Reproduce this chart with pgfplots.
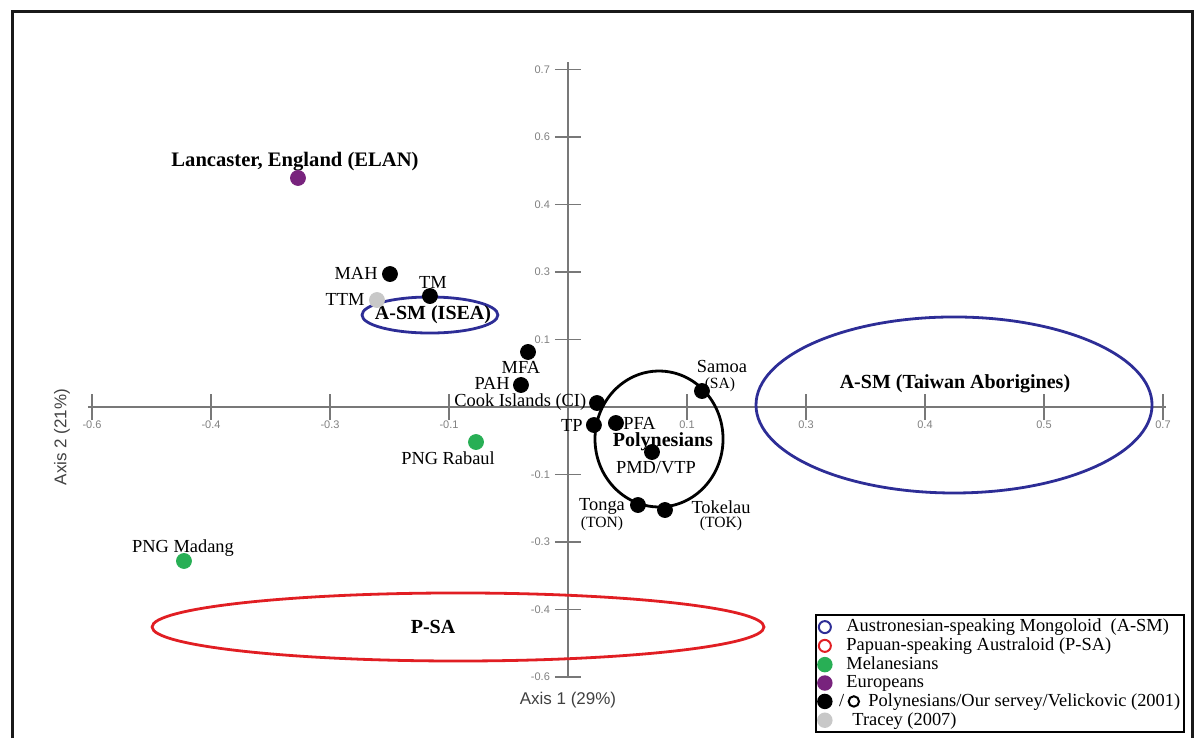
\documentclass[border=0pt]{standalone}
\usepackage{fontspec}
\setmainfont{Liberation Serif}
\setsansfont{Liberation Sans}
\usepackage{pgfplots}
\pgfplotsset{compat=1.18}
\definecolor{asmblue}{RGB}{45,45,150}
\definecolor{psared}{RGB}{225,30,35}
\definecolor{melgreen}{RGB}{40,175,85}
\definecolor{eurpurple}{RGB}{120,35,125}
\definecolor{tracey}{RGB}{200,200,200}
\definecolor{axgray}{RGB}{120,120,120}
\pgfplotsset{dotlegend/.style={legend image code/.code={%
  \draw[##1] plot coordinates {(0pt,0pt)};
  \path (-3.75pt,0pt) (8.2pt,0pt);}}}
\begin{document}
\begin{tikzpicture}
\begin{axis}[
  x=595pt, y=337.5pt,
  xmin=-0.4034, xmax=0.5025, ymin=-0.402, ymax=0.511,
  axis lines=middle,
  axis line style={-, draw=axgray, line width=0.8pt},
  clip=false,
  xtick={-0.4,-0.3,-0.2,-0.1,0.1,0.2,0.3,0.4,0.5},
  xticklabels={-0.6,-0.4,-0.3,-0.1,0.1,0.3,0.4,0.5,0.7},
  ytick={-0.4,-0.3,-0.2,-0.1,0.1,0.2,0.3,0.4,0.5},
  yticklabels={-0.6,-0.4,-0.3,-0.1,0.1,0.3,0.4,0.6,0.7},
  tick align=center,
  major tick length=13pt,
  tick style={draw=axgray, line width=0.7pt},
  ticklabel style={font=\sffamily\fontsize{5.5}{6}\selectfont, text=gray},
  xticklabel style={anchor=north, yshift=3pt},
  yticklabel style={anchor=east, xshift=1pt},
  legend cell align=left,
  legend style={at={(0.6744,0.1044)}, anchor=north west, draw=black,
    line width=1.2pt, fill=white, font=\fontsize{9.2}{9.5}\selectfont,
    inner sep=0pt, row sep=-2.5pt},
]
% picture area (1195 x 738 px) and outer frame
\path (axis cs:-0.4773,0.6030) rectangle (axis cs:0.5269,-0.4904);
\draw[line width=1.5pt, black!90] (axis cs:-0.4672,-0.4904) -- (axis cs:-0.4672,0.5852)
  -- (axis cs:0.5244,0.5852) -- (axis cs:0.5244,-0.4904);

% legend entries
\addlegendimage{only marks, mark=o, mark size=3pt, asmblue, mark options={line width=1pt}, dotlegend}
\addlegendentry{Austronesian-speaking Mongoloid\ \ (A-SM)}
\addlegendimage{only marks, mark=o, mark size=3pt, psared, mark options={line width=1pt}, dotlegend}
\addlegendentry{Papuan-speaking Australoid (P-SA)}
\addlegendimage{only marks, mark=*, mark size=3.25pt, melgreen, dotlegend}
\addlegendentry{Melanesians}
\addlegendimage{only marks, mark=*, mark size=3.25pt, eurpurple, dotlegend}
\addlegendentry{Europeans}
\addlegendimage{legend image code/.code={
  \fill[black] (0pt,0pt) circle (3.25pt);
  \node[overlay, inner sep=0pt, font=\fontsize{9.2}{9.5}\selectfont] at (6.5pt,0pt) {/};
  \draw[overlay, black, line width=1pt] (14.5pt,0pt) circle (2.6pt);
  \path (-3.75pt,0pt) (8.2pt,0pt);}}
\addlegendentry{\hspace{11pt}Polynesians/Our servey/Velickovic (2001)}
\addlegendimage{only marks, mark=*, mark size=3.25pt, tracey, dotlegend}
\addlegendentry{\hspace{3pt}Tracey (2007)}

% ellipses (groups)
\draw[asmblue, line width=1.4pt] (axis cs:-0.1160,0.1363) ellipse [x radius=0.0571, y radius=0.0267];
\draw[asmblue, line width=1.4pt] (axis cs:0.3244,0.0030) ellipse [x radius=0.1664, y radius=0.1304];
\draw[psared, line width=1.4pt] (axis cs:-0.0924,-0.3259) ellipse [x radius=0.2571, y radius=0.0504];
\draw[black, line width=1.4pt] (axis cs:0.0765,-0.0474) ellipse [x radius=0.0538, y radius=0.1007];

% Europeans
\addplot[only marks, mark=*, mark size=3.75pt, eurpurple, forget plot] coordinates {(-0.2269,0.3393)};
% Melanesians
\addplot[only marks, mark=*, mark size=3.75pt, melgreen, forget plot] coordinates {(-0.0773,-0.0519) (-0.3227,-0.2281)};
% Tracey (2007)
\addplot[only marks, mark=*, mark size=3.75pt, tracey, forget plot] coordinates {(-0.1605,0.1585)};
% Polynesians / our survey / Velickovic (2001)
\addplot[only marks, mark=*, mark size=3.75pt, black, forget plot] coordinates {
  (-0.1496,0.1970) (-0.1160,0.1644) (-0.0336,0.0815) (-0.0395,0.0326)
  (0.0244,0.0059) (0.0218,-0.0267) (0.0403,-0.0237) (0.0706,-0.0667)
  (0.1126,0.0237) (0.0588,-0.1452) (0.0815,-0.1526)};

% labels
\begin{scope}[every node/.style={font=\fontsize{9.2}{10}\selectfont, inner sep=0pt}]
\node[font=\bfseries\fontsize{10.3}{11}\selectfont] at (axis cs:-0.2294,0.3634) {Lancaster, England (ELAN)};
\node[anchor=east] at (axis cs:-0.1597,0.1985) {MAH};
\node at (axis cs:-0.1134,0.1852) {TM};
\node[anchor=east] at (axis cs:-0.1706,0.1600) {TTM};
\node[font=\bfseries\fontsize{10}{11}\selectfont] at (axis cs:-0.1134,0.1363) {A-SM (ISEA)};
\node at (axis cs:-0.0395,0.0593) {MFA};
\node[anchor=east] at (axis cs:-0.0487,0.0356) {PAH};
\node[anchor=west] at (axis cs:-0.0958,0.0070) {Cook Islands (CI)};
\node at (axis cs:0.1294,0.0593) {Samoa};
\node[font=\fontsize{7.8}{8}\selectfont] at (axis cs:0.1277,0.0330) {(SA)};
\node[anchor=east] at (axis cs:0.0126,-0.0267) {TP};
\node[anchor=west] at (axis cs:0.0462,-0.0237) {PFA};
\node[font=\bfseries\fontsize{10}{11}\selectfont] at (axis cs:0.0798,-0.0510) {Polynesians};
\node at (axis cs:0.0739,-0.0890) {PMD/VTP};
\node at (axis cs:0.0286,-0.1480) {Tonga};
\node[font=\fontsize{7.8}{8}\selectfont] at (axis cs:0.0286,-0.1735) {(TON)};
\node at (axis cs:0.1286,-0.1480) {Tokelau};
\node[font=\fontsize{7.8}{8}\selectfont] at (axis cs:0.1286,-0.1735) {(TOK)};
\node at (axis cs:-0.1008,-0.0756) {PNG Rabaul};
\node at (axis cs:-0.3235,-0.2089) {PNG Madang};
\node[font=\bfseries\fontsize{10}{11}\selectfont] at (axis cs:-0.1134,-0.3259) {P-SA};
\node[font=\bfseries\fontsize{10}{11}\selectfont] at (axis cs:0.3252,0.0341) {A-SM (Taiwan Aborigines)};
\end{scope}

% axis titles
\node[font=\sffamily\fontsize{8.5}{10}\selectfont, text=black!75] at (axis cs:0,-0.434) {Axis 1 (29\%)};
\node[font=\sffamily\fontsize{8.5}{10}\selectfont, text=black!75, rotate=90] at (axis cs:-0.4252,-0.0444) {Axis 2 (21\%)};
\end{axis}
\end{tikzpicture}
\end{document}
